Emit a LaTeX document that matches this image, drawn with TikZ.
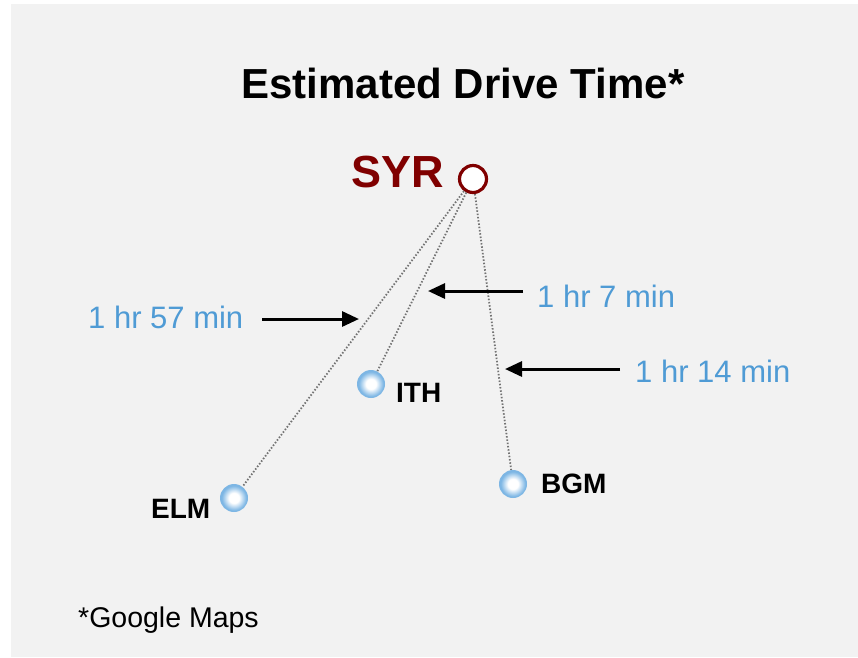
\documentclass[tikz,border=0pt]{standalone}
\usepackage{fontspec}
\setmainfont{Liberation Sans}
\usetikzlibrary{arrows.meta}

\definecolor{panelgray}{RGB}{242,242,242}
\definecolor{syrred}{RGB}{128,0,0}
\definecolor{timeblue}{RGB}{79,155,213}
\definecolor{ballblue}{RGB}{125,182,228}
\definecolor{routegray}{RGB}{115,115,115}

\pgfdeclareradialshading{ballshade}{\pgfpoint{0bp}{0bp}}{color(0bp)=(white); color(9bp)=(white); color(22bp)=(ballblue); color(50bp)=(ballblue)}

\begin{document}
\begin{tikzpicture}[x=1pt, y=-1pt,
    airport/.style={circle, inner sep=0pt, minimum size=28pt, shading=ballshade},
    hub/.style={circle, draw=syrred, line width=3.2pt, fill=white, inner sep=0pt, minimum size=27pt},
    code/.style={inner sep=0pt, font=\bfseries\fontsize{28}{32}\selectfont},
    drive/.style={inner sep=0pt, text=timeblue, font=\fontsize{31}{36}\selectfont},
    route/.style={draw=routegray, line width=1.8pt, dash pattern=on 1.5pt off 1.8pt},
    pointer/.style={draw=black, line width=3pt, -{Triangle[length=17pt, width=15pt]}}]

% Panel
\useasboundingbox (0,0) rectangle (858,657);
\fill[panelgray] (11,4) rectangle (858,657);

\node[anchor=base, inner sep=0pt, font=\bfseries\fontsize{42}{50}\selectfont] (title) at (463,98) {Estimated Drive Time*};

% Airports
\node[hub] (syr) at (473,179) {};
\node[airport] (ith) at (371,384) {};
\node[airport] (elm) at (234,498) {};
\node[airport] (bgm) at (513,484) {};

\node[code, text=syrred, font=\bfseries\fontsize{45}{50}\selectfont, anchor=base east] (syrlabel) at (444,187) {SYR};
\node[code, anchor=base west] (ithlabel) at (396,402) {ITH};
\node[code, anchor=base west] (elmlabel) at (151,518) {ELM};
\node[code, anchor=base west] (bgmlabel) at (541,493) {BGM};

% Routes
\draw[route] (syr) -- (elm);
\draw[route] (syr) -- (ith);
\draw[route] (syr) -- (bgm);

% Drive times
\node[drive, anchor=base west] (t57) at (88,328) {1 hr 57 min};
\node[drive, anchor=base west] (t7) at (537,307) {1 hr 7 min};
\node[drive, anchor=base west] (t14) at (635,382) {1 hr 14 min};

\coordinate (p57a) at (262,319);
\coordinate (p57b) at (359,319);
\coordinate (p7a) at (523,291);
\coordinate (p7b) at (428,291);
\coordinate (p14a) at (620,369);
\coordinate (p14b) at (505,369);

\draw[pointer] (p57a) -- (p57b);
\draw[pointer] (p7a) -- (p7b);
\draw[pointer] (p14a) -- (p14b);

\node[anchor=base west, inner sep=0pt, font=\fontsize{28.5}{32}\selectfont] (source) at (78,627) {*Google Maps};
\end{tikzpicture}
\end{document}
